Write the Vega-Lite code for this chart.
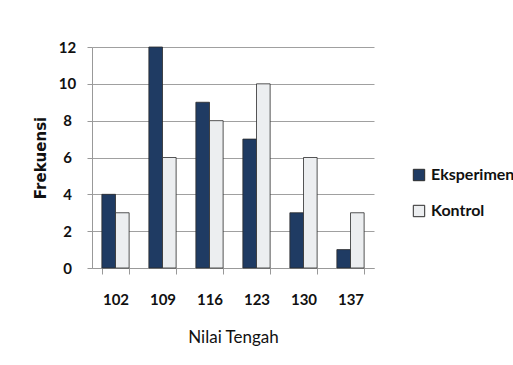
{
  "$schema": "https://vega.github.io/schema/vega-lite/v6.json",
  "autosize": "none",
  "width": 282,
  "height": 221,
  "padding": {"left": 92, "top": 47, "right": 139, "bottom": 97},
  "background": "white",
  "data": {
    "values": [
      {"nilai": "102", "kelompok": "Eksperimen", "frekuensi": 4},
      {"nilai": "102", "kelompok": "Kontrol", "frekuensi": 3},
      {"nilai": "109", "kelompok": "Eksperimen", "frekuensi": 12},
      {"nilai": "109", "kelompok": "Kontrol", "frekuensi": 6},
      {"nilai": "116", "kelompok": "Eksperimen", "frekuensi": 9},
      {"nilai": "116", "kelompok": "Kontrol", "frekuensi": 8},
      {"nilai": "123", "kelompok": "Eksperimen", "frekuensi": 7},
      {"nilai": "123", "kelompok": "Kontrol", "frekuensi": 10},
      {"nilai": "130", "kelompok": "Eksperimen", "frekuensi": 3},
      {"nilai": "130", "kelompok": "Kontrol", "frekuensi": 6},
      {"nilai": "137", "kelompok": "Eksperimen", "frekuensi": 1},
      {"nilai": "137", "kelompok": "Kontrol", "frekuensi": 3}
    ]
  },
  "mark": {"type": "bar", "stroke": "#2b2b2b", "strokeWidth": 0.8},
  "encoding": {
    "x": {
      "field": "nilai",
      "type": "nominal",
      "sort": null,
      "title": "Nilai Tengah",
      "scale": {"paddingInner": 0.42, "paddingOuter": 0.21},
      "axis": {
        "labelAngle": 0,
        "tickBand": "extent",
        "labelPadding": 18,
        "tickSize": 6,
        "titlePadding": 22,
        "titleFontSize": 17,
        "domainColor": "#999999",
        "tickColor": "#999999"
      }
    },
    "xOffset": {"field": "kelompok", "type": "nominal"},
    "y": {
      "field": "frekuensi",
      "type": "quantitative",
      "title": "Frekuensi",
      "scale": {"domain": [0, 12]},
      "axis": {
        "values": [0, 2, 4, 6, 8, 10, 12],
        "grid": true,
        "gridColor": "#a0a0a0",
        "domainColor": "#999999",
        "tickColor": "#999999",
        "tickSize": 5,
        "labelAlign": "center",
        "labelPadding": 20,
        "titlePadding": 10,
        "titleFont": "DejaVu Sans",
        "titleFontSize": 15,
        "titleFontWeight": "bold"
      }
    },
    "color": {
      "field": "kelompok",
      "type": "nominal",
      "title": null,
      "scale": {"domain": ["Eksperimen", "Kontrol"], "range": ["#1f3b63", "#eceef0"]},
      "legend": {"symbolStrokeColor": "#2b2b2b"}
    }
  },
  "config": {
    "font": "Lato",
    "view": {"stroke": null},
    "axis": {
      "labelFont": "Lato",
      "labelFontSize": 15,
      "labelFontWeight": "bold",
      "labelColor": "#111111",
      "titleFont": "Lato",
      "titleFontSize": 17,
      "titleFontWeight": "normal",
      "titleColor": "#111111"
    },
    "legend": {
      "orient": "none",
      "legendX": 319,
      "legendY": 120,
      "symbolType": "square",
      "symbolSize": 130,
      "symbolStrokeWidth": 1,
      "labelFont": "Lato",
      "labelFontSize": 16,
      "labelFontWeight": "bold",
      "labelColor": "#111111",
      "labelLimit": 200,
      "rowPadding": 20,
      "labelOffset": 4
    }
  }
}
